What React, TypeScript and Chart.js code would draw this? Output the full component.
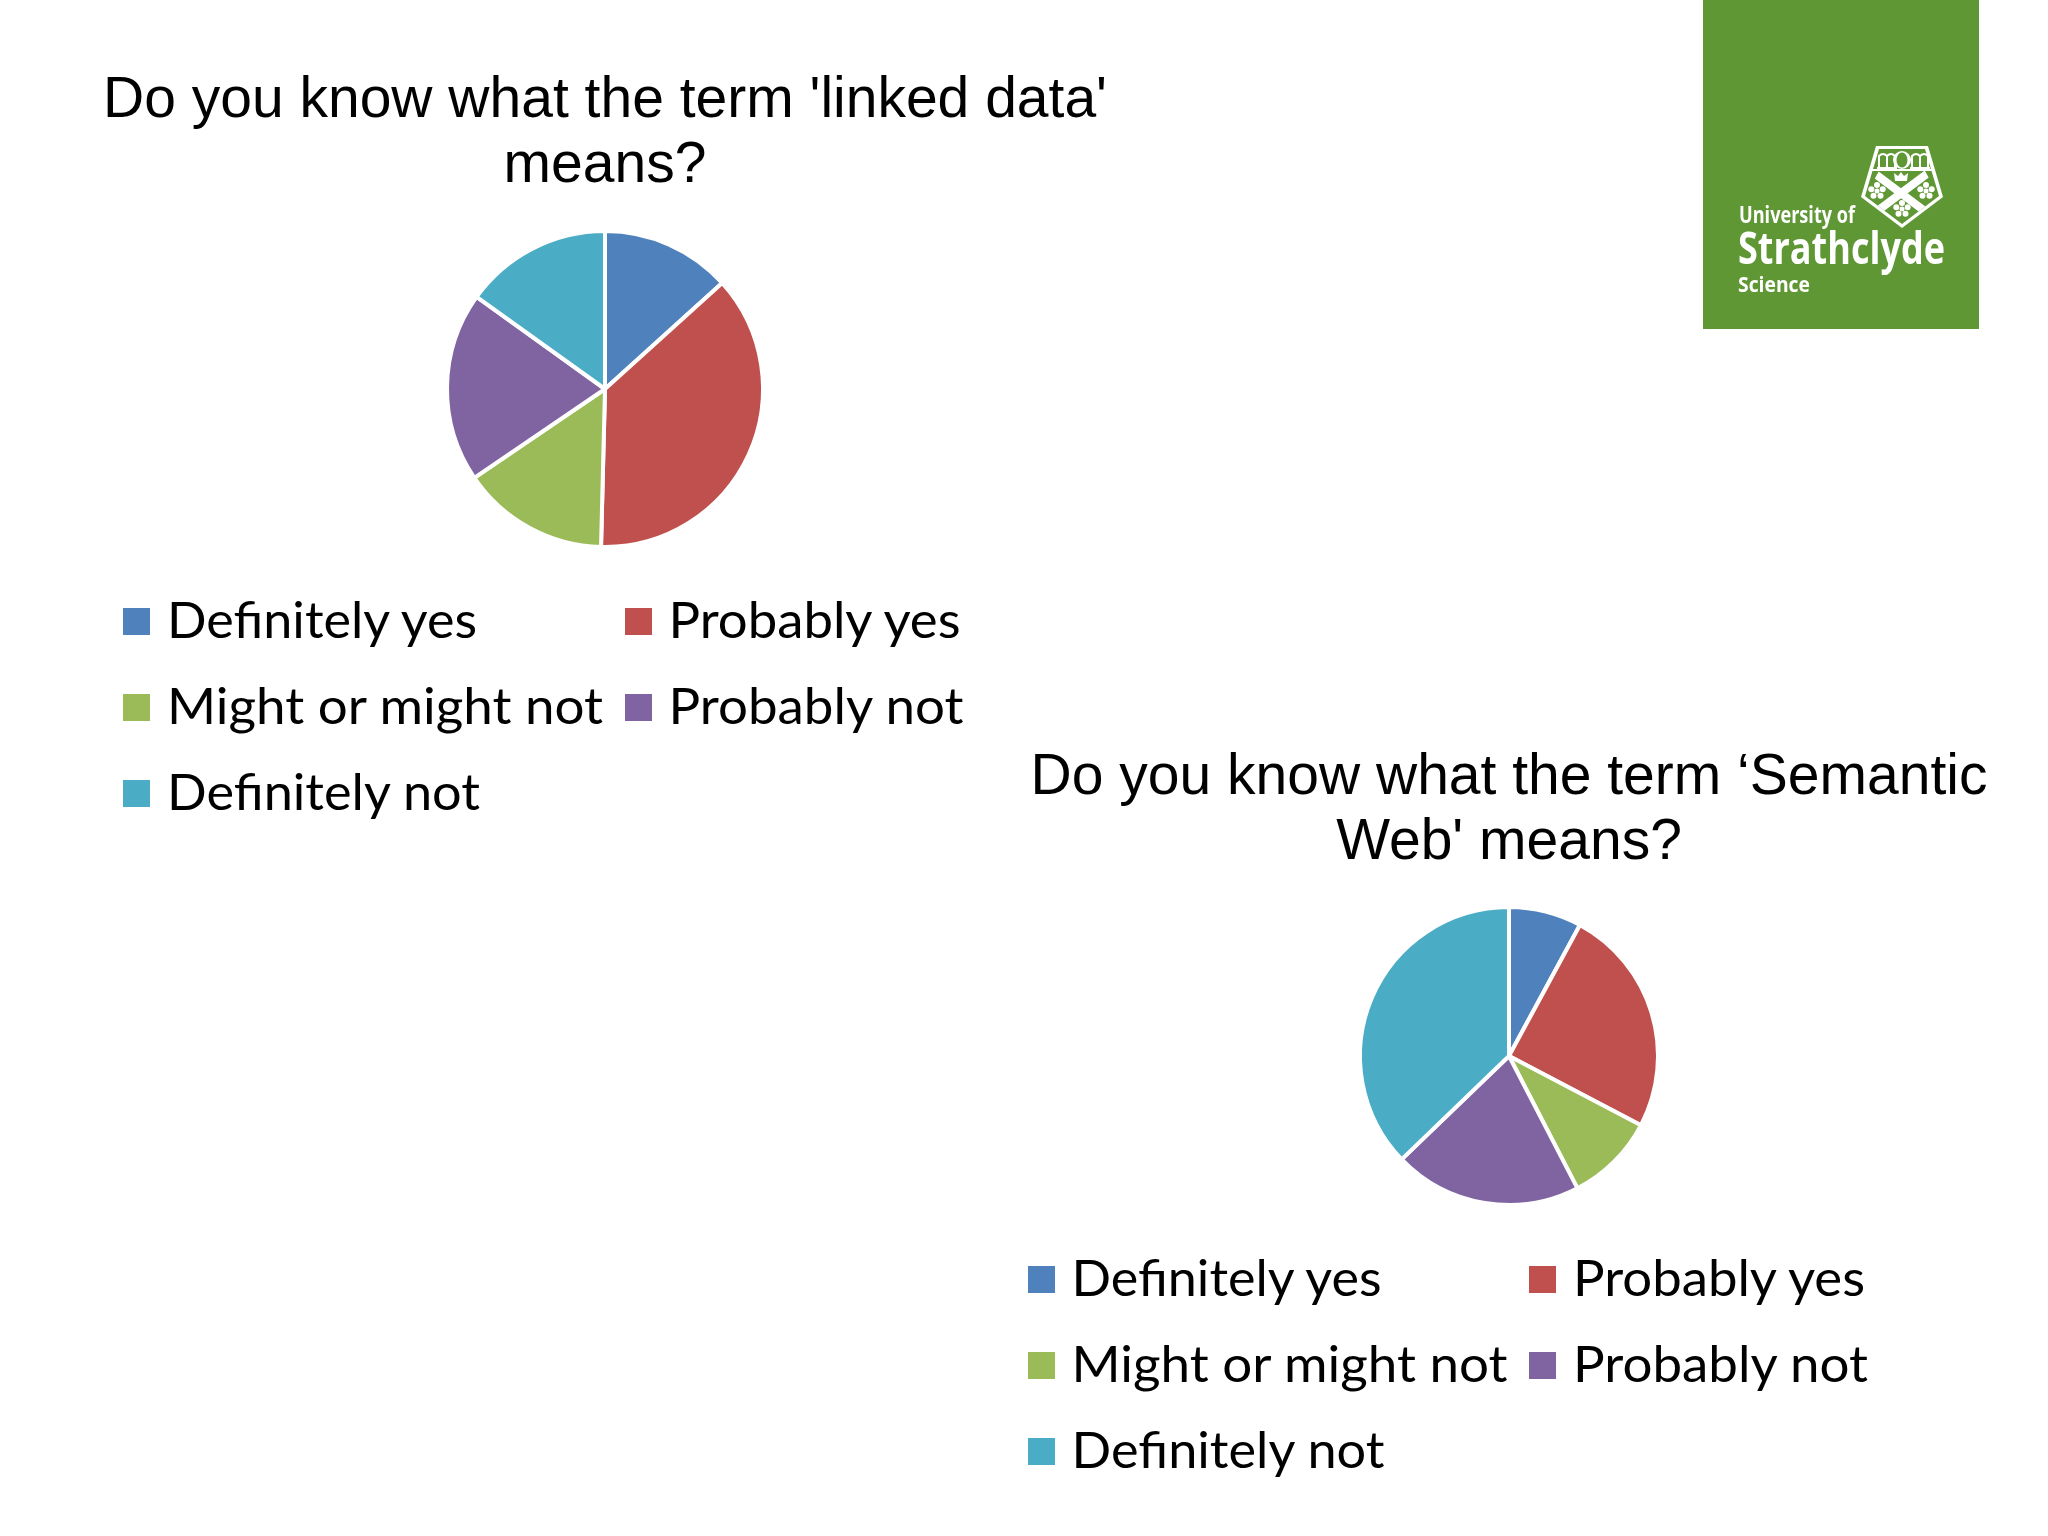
import React, { useEffect, useRef } from "react";
import { Chart, registerables } from "chart.js";

Chart.register(...registerables);

const categories = ["Definitely yes", "Probably yes", "Might or might not", "Probably not", "Definitely not"];
const linkedDataValues = [13.3, 37.1, 15.1, 19.4, 15.1];
const semanticWebValues = [7.9, 24.8, 9.7, 20.4, 37.2];
const sliceColors = ["#4F81BD", "#C0504D", "#9BBB59", "#8064A2", "#4BACC6"];
const linkedDataTitle = ["Do you know what the term 'linked data'", "means?"];
const semanticWebTitle = ["Do you know what the term \u2018Semantic", "Web' means?"];

const TITLE_FONT = "'Liberation Sans', Arial, sans-serif";
const LEGEND_FONT = "Lato, sans-serif";
const LEGEND_SIZE = 50;
const LEGEND_TEXT_WIDTHS = [310, 292, 436, 295, 313];

function Pie(props: { values: number[]; title: string[]; left: number; top: number; width: number; height: number; radius: number; padRight: number }) {
  const ref = useRef<HTMLCanvasElement | null>(null);
  useEffect(() => {
    const chart = new Chart(ref.current as HTMLCanvasElement, {
      type: "pie",
      data: {
        labels: categories,
        datasets: [{ data: props.values, backgroundColor: sliceColors, borderColor: "#ffffff", borderWidth: 4, radius: props.radius }],
      },
      options: {
        animation: false,
        responsive: false,
        layout: { padding: { right: props.padRight } },
        plugins: {
          legend: { display: false },
          tooltip: { enabled: false },
          title: {
            display: true,
            text: props.title,
            color: "#000000",
            padding: 0,
            font: { family: TITLE_FONT, size: 57, weight: "normal", lineHeight: 65 / 57 },
          },
        },
      },
    });
    return () => chart.destroy();
  }, []);
  return (
    <canvas
      ref={ref}
      width={props.width}
      height={props.height}
      style={{ position: "absolute", left: props.left, top: props.top, width: props.width, height: props.height }}
    />
  );
}

function Legend(props: { x1: number; x2: number; text1: number; text2: number; baseline: number }) {
  const rowGap = 86;
  return (
    <g>
      {categories.map((c, i) => {
        const col = i % 2;
        const row = Math.floor(i / 2);
        const x = col === 0 ? props.x1 : props.x2;
        const tx = col === 0 ? props.text1 : props.text2;
        const y = props.baseline + row * rowGap;
        return (
          <g key={c}>
            <rect x={x} y={y - 30} width={27} height={27} fill={sliceColors[i]} />
            <text
              x={tx}
              y={y}
              textLength={LEGEND_TEXT_WIDTHS[i]}
              lengthAdjust="spacingAndGlyphs"
              fontFamily={LEGEND_FONT}
              fontSize={LEGEND_SIZE}
              fill="#000"
            >
              {c}
            </text>
          </g>
        );
      })}
    </g>
  );
}

function Logo() {
  const green = "#5F9734";
  const rosette = (cx: number, cy: number) => (
    <g fill="#fff">
      {[0, 72, 144, 216, 288].map((a) => (
        <circle key={a} cx={cx + 6 * Math.sin((a * Math.PI) / 180)} cy={cy - 6 * Math.cos((a * Math.PI) / 180)} r={3} />
      ))}
      <circle cx={cx} cy={cy} r={2.5} />
    </g>
  );
  const book = (x: number) => (
    <g fill="none" stroke="#fff" strokeWidth={2}>
      <path d={`M${x} 168 L${x} 156 Q${x + 4} 152 ${x + 8} 156 L${x + 8} 168`} />
      <path d={`M${x + 8} 156 Q${x + 12} 152 ${x + 16} 156 L${x + 16} 168`} />
      <path d={`M${x - 2} 168 L${x + 18} 168`} />
    </g>
  );
  return (
    <g>
      <rect x={1703} y={0} width={276} height={329} fill={green} />
      <polygon points="1876,146 1928,146 1943,197 1902,228 1861,197" fill="#fff" />
      <polygon points="1879,149 1925,149 1939,196 1902,224 1865,196" fill={green} />
      <rect x={1872} y={169} width={60} height={2} fill="#fff" />
      {book(1879)}
      {book(1912)}
      <ellipse cx={1902} cy={160} rx={9} ry={9} fill="#fff" />
      <ellipse cx={1902} cy={160} rx={5.5} ry={7.5} fill={green} />
      <clipPath id="shield">
        <polygon points="1879,171 1925,171 1939,196 1902,224 1865,196" />
      </clipPath>
      <g clipPath="url(#shield)" stroke="#fff" strokeWidth={8}>
        <line x1={1870} y1={170} x2={1926} y2={212} />
        <line x1={1932} y1={170} x2={1876} y2={212} />
      </g>
      <path d="M1894 173 L1898 176 L1901 172 L1904 176 L1908 173 L1907 181 L1895 181 Z" fill="#fff" />
      {rosette(1877, 191)}
      {rosette(1926, 191)}
      {rosette(1902, 209)}
      <g fontFamily="'Open Sans', sans-serif" fill="#fff" fontWeight={700}>
        <text x={1739} y={223} fontSize={24} textLength={116} lengthAdjust="spacingAndGlyphs">University of</text>
        <text x={1738} y={264} fontSize={44} textLength={207} lengthAdjust="spacingAndGlyphs">Strathclyde</text>
        <text x={1738} y={292} fontSize={22} textLength={72} lengthAdjust="spacingAndGlyphs">Science</text>
      </g>
    </g>
  );
}

export default function App() {
  return (
    <div style={{ position: "absolute", left: 0, top: 0, width: 2048, height: 1536, overflow: "hidden", background: "#fff" }}>
      <Pie values={linkedDataValues} title={linkedDataTitle} left={0} top={69} width={1216} height={510} radius={158} padRight={6} />
      <Pie values={semanticWebValues} title={semanticWebTitle} left={1009} top={746} width={1000} height={490} radius={149} padRight={0} />
      <svg width={2048} height={1536} style={{ position: "absolute", left: 0, top: 0 }}>
        <Logo />
        <Legend x1={123} x2={625} text1={167} text2={668.5} baseline={638} />
        <Legend x1={1028} x2={1529} text1={1071.5} text2={1573} baseline={1296} />
      </svg>
    </div>
  );
}
